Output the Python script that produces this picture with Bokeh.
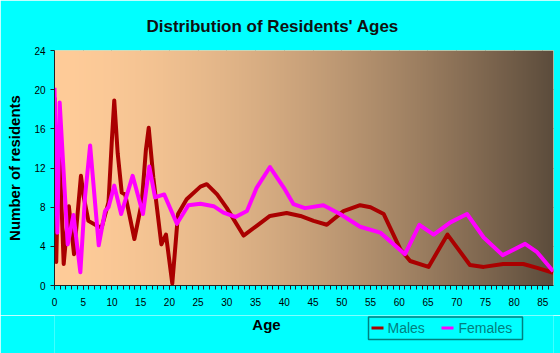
import numpy as np
from bokeh.plotting import figure
from bokeh.models import Range1d, FixedTicker
from bokeh.core.properties import value
from bokeh.layouts import column
from bokeh.embed import file_html
from bokeh.resources import INLINE

# ---- data ----
male_age = [0, 0.3, 0.8, 1.6, 2.5, 3.4, 4.6, 5.1, 5.9, 7.4, 8.2, 9.4, 10.0, 10.4, 11.0,
            11.7, 12.3, 13.9, 15.2, 15.9, 16.4, 17.2, 18.6, 19.4, 20.5, 21.5, 23, 25.4,
            26.5, 28.3, 30, 32.9, 35.2, 37.5, 40.4, 42.8, 45.1, 47.4, 50.3, 53.2, 55,
            57.3, 60.2, 61.9, 65.1, 68.4, 72.3, 74.7, 78.1, 81.6, 84, 86.8]
male_val = [19.2, 2.4, 14.9, 2.2, 8.1, 3.2, 11.2, 9.0, 6.6, 6.1, 5.9, 8.5, 15.0, 18.9, 13.5,
            9.5, 9.3, 4.75, 8.5, 13.8, 16.1, 11.0, 4.2, 5.2, 0.2, 7.3, 8.8, 10.1,
            10.35, 9.3, 7.9, 5.1, 6.1, 7.1, 7.4, 7.1, 6.6, 6.2, 7.6, 8.2, 8.0,
            7.3, 3.7, 2.5, 1.9, 5.2, 2.1, 1.9, 2.2, 2.2, 1.8, 1.3]

female_age = [0, 0.5, 0.9, 2.3, 3.3, 4.5, 5.3, 6.2, 7.7, 8.8, 9.4, 10.4, 11.6, 13.6, 15.4,
              16.5, 17.5, 19.1, 21.3, 23.3, 25.4, 27.7, 29.4, 31.5, 33.5, 35.2, 37.5, 39.9,
              41.6, 43.6, 46.8, 49.7, 53.2, 56.7, 61, 63.5, 66, 68.9, 71.8, 74.7, 78,
              81.9, 84, 86.8]
female_val = [20.2, 5.4, 18.7, 4.2, 7.2, 1.35, 9.0, 14.3, 4.1, 7.6, 8.0, 10.2, 7.3, 11.2, 7.3,
              12.15, 9.0, 9.3, 6.3, 8.2, 8.35, 8.1, 7.45, 7.0, 7.6, 10.0, 12.1, 10.0,
              8.3, 7.9, 8.2, 7.3, 6.0, 5.4, 3.2, 6.2, 5.2, 6.45, 7.3, 4.9, 3.1,
              4.25, 3.4, 1.45]

series_names = ["Males", "Females"]
series_colors = ["#AA0000", "#FF00FF"]

x_ticks = list(range(0, 90, 5))
y_ticks = [0, 4, 8, 12, 16, 20, 24]

X_END = 86.85
Y_END = 24

CYAN = "#00FFFF"
TEAL = "#008080"
FONT = "Liberation Sans"

MAIN_H = 315
W = 560
BOT_H = 353 - MAIN_H
B_LEFT = 54
B_RIGHT = 7

p = figure(width=W, height=MAIN_H, output_backend="svg", toolbar_location=None,
           x_range=Range1d(0, X_END), y_range=Range1d(0, Y_END),
           min_border_left=B_LEFT, min_border_right=B_RIGHT, min_border_top=49,
           min_border_bottom=30,
           background_fill_color="#FFCC99", border_fill_color=CYAN)

# gradient background of the plot area
n = 400
t = np.linspace(0, 1, n)
tt = t ** 1.6
c_left = np.array([255, 204, 153])
c_right = np.array([92, 76, 60])
cols = (c_left[None, :] + (c_right - c_left)[None, :] * tt[:, None]).astype(np.uint32)
img = np.zeros((1, n), dtype=np.uint32)
view = img.view(dtype=np.uint8).reshape((1, n, 4))
view[0, :, 0] = cols[:, 0]
view[0, :, 1] = cols[:, 1]
view[0, :, 2] = cols[:, 2]
view[0, :, 3] = 255
p.image_rgba(image=[img], x=0, y=0, dw=X_END, dh=Y_END)

# title
p.title.text = "Distribution of Residents' Ages"
p.title.text_font = FONT
p.title.text_font_size = "17px"
p.title.text_font_style = "bold"
p.title.text_color = "#111111"
p.title.align = "left"
p.title.offset = 92
p.title.standoff = 29

# grid
p.xgrid.ticker = FixedTicker(ticks=x_ticks)
p.ygrid.ticker = FixedTicker(ticks=y_ticks)
for g in (p.xgrid, p.ygrid):
    g.grid_line_color = "#333333"
    g.grid_line_alpha = 0.65
    g.grid_line_width = 1

# axes
p.xaxis.ticker = FixedTicker(ticks=x_ticks, minor_ticks=list(range(0, 87)))
p.yaxis.ticker = FixedTicker(ticks=y_ticks)
for ax in (p.xaxis, p.yaxis):
    ax.axis_line_color = "#222222"
    ax.major_tick_line_color = "#222222"
    ax.minor_tick_line_color = "#222222"
    ax.major_label_text_font = FONT
    ax.major_label_text_font_size = "10px"
    ax.major_label_text_color = "#000000"
    ax.axis_label_text_font = FONT
    ax.axis_label_text_font_size = "15px"
    ax.axis_label_text_font_style = "bold"
    ax.axis_label_text_color = "#000000"
p.xaxis.major_tick_out = 4
p.xaxis.major_tick_in = 0
p.xaxis.minor_tick_out = 4
p.xaxis.minor_tick_in = 0
p.yaxis.major_tick_out = 4
p.yaxis.major_tick_in = 0
p.yaxis.minor_tick_out = 0
p.yaxis.minor_tick_in = 0
p.yaxis.axis_label = "Number of residents"
p.yaxis.axis_label_standoff = 8
p.xaxis.major_label_standoff = 8
p.outline_line_color = None

# data lines
p.line(male_age, male_val, line_color=series_colors[0], line_width=4, line_join="round")
p.line(female_age, female_val, line_color=series_colors[1], line_width=4, line_join="round")

# ---- bottom strip: x-axis title and legend (canvas pixel coordinates, y downward) ----
q = figure(width=W, height=BOT_H, output_backend="svg", toolbar_location=None,
           x_range=Range1d(B_LEFT, W - B_RIGHT), y_range=Range1d(BOT_H, 0),
           x_axis_location=None, y_axis_location=None,
           min_border_left=B_LEFT, min_border_right=B_RIGHT,
           min_border_top=0, min_border_bottom=0,
           background_fill_color=CYAN, border_fill_color=CYAN)
q.grid.visible = False
q.outline_line_color = None

q.text(x=[266], y=[9], text=["Age"], text_font=value(FONT), text_font_size="15px",
       text_font_style="bold", text_align="center", text_baseline="middle",
       text_color="#000000")

# legend box
q.quad(left=[368], right=[522], top=[1.5], bottom=[24], fill_color=CYAN,
       line_color=TEAL, line_width=1.5)
leg_line_x = [371, 441]
leg_text_x = [387, 458]
for name, col, lx, tx in zip(series_names, series_colors, leg_line_x, leg_text_x):
    q.segment(x0=[lx], y0=[12.5], x1=[lx + 12], y1=[12.5], line_color=col, line_width=3)
    q.text(x=[tx], y=[12.5], text=[name], text_font=value(FONT), text_font_size="14px",
           text_align="left", text_baseline="middle", text_color=TEAL)

layout = column(p, q, spacing=0)
open("out.html", "w").write(file_html(layout, INLINE))
